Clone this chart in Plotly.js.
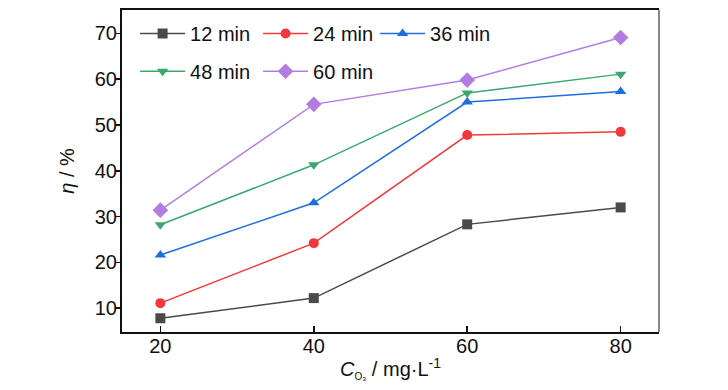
<!DOCTYPE html>
<html>
<head>
<meta charset="utf-8">
<script src="https://cdn.plot.ly/plotly-3.0.1.min.js"></script>
<style>html,body{margin:0;padding:0;background:#fff;}#chart{width:728px;height:390px;}</style>
</head>
<body>
<div id="chart"></div>
<script>
// Data
const concentrations = [20, 40, 60, 80];
const seriesNames = ['12 min', '24 min', '36 min', '48 min', '60 min'];
const eta12 = [7.8, 12.2, 28.3, 32.0];
const eta24 = [11.1, 24.2, 47.8, 48.5];
const eta36 = [21.6, 33.0, 55.0, 57.3];
const eta48 = [28.2, 41.3, 57.0, 61.1];
const eta60 = [31.4, 54.5, 59.8, 69.1];
const xTicks = [20, 40, 60, 80];
const yTicks = [10, 20, 30, 40, 50, 60, 70];

const colors = ['#4a4a4a', '#f0393c', '#1f6ee0', '#3aa76d', '#b27de0'];
const symbols = ['square', 'circle', 'triangle-up', 'triangle-down', 'diamond'];
const values = [eta12, eta24, eta36, eta48, eta60];
const legendIds = ['legend', 'legend2', 'legend3', 'legend4', 'legend5'];

const traces = values.map((v, i) => ({
  x: concentrations,
  y: v,
  name: seriesNames[i],
  type: 'scatter',
  mode: 'lines+markers',
  line: {color: colors[i], width: 1.5},
  marker: {color: colors[i], symbol: symbols[i], size: i === 4 ? 12 : 10},
  legend: legendIds[i]
}));

const font = {family: 'Liberation Sans, Arial, sans-serif', size: 20, color: '#111'};

function legendAt(x, y) {
  return {
    orientation: 'h',
    x: x, y: y,
    xanchor: 'left',
    yanchor: 'middle',
    bgcolor: 'rgba(0,0,0,0)',
    borderwidth: 0,
    itemwidth: 45,
    font: font
  };
}

const row1 = 0.927, row2 = 0.81;
const col1 = 0.0244, col2 = 0.2534, col3 = 0.4713;

const layout = {
  width: 728,
  height: 390,
  margin: {l: 122, r: 69, t: 10, b: 58},
  paper_bgcolor: '#fff',
  plot_bgcolor: '#fff',
  font: font,
  showlegend: true,
  legend: legendAt(col1, row1),
  legend2: legendAt(col2, row1),
  legend3: legendAt(col3, row1),
  legend4: legendAt(col1, row2),
  legend5: legendAt(col2, row2),
  xaxis: {
    range: [15, 85],
    tickvals: xTicks,
    ticktext: xTicks.map(String),
    ticks: 'inside',
    ticklen: 6,
    tickwidth: 1.5,
    tickcolor: '#111',
    ticklabelstandoff: -5,
    showline: true,
    linecolor: '#111',
    linewidth: 2,
    mirror: true,
    showgrid: false,
    zeroline: false,
    tickfont: font,
    title: {
      text: '<i>C</i><sub><span style="font-size:10px">O₃</span></sub> / mg·L<sup>-1</sup>',
      font: font,
      standoff: 6
    }
  },
  yaxis: {
    range: [4.8, 75.1],
    tickvals: yTicks,
    ticktext: yTicks.map(String),
    ticks: 'outside',
    ticklen: 5,
    tickwidth: 1.5,
    tickcolor: '#111',
    ticklabelstandoff: -6,
    showline: true,
    linecolor: '#111',
    linewidth: 2,
    showgrid: false,
    zeroline: false,
    tickfont: font,
    title: {text: '<i>η</i> / %', font: font, standoff: 15}
  },
  shapes: [{
    type: 'line', xref: 'paper', yref: 'paper',
    x0: 1, x1: 1, y0: 0, y1: 1,
    line: {color: '#888', width: 2}
  }]
};

Plotly.newPlot('chart', traces, layout, {displayModeBar: false, staticPlot: true});
</script>
</body>
</html>
